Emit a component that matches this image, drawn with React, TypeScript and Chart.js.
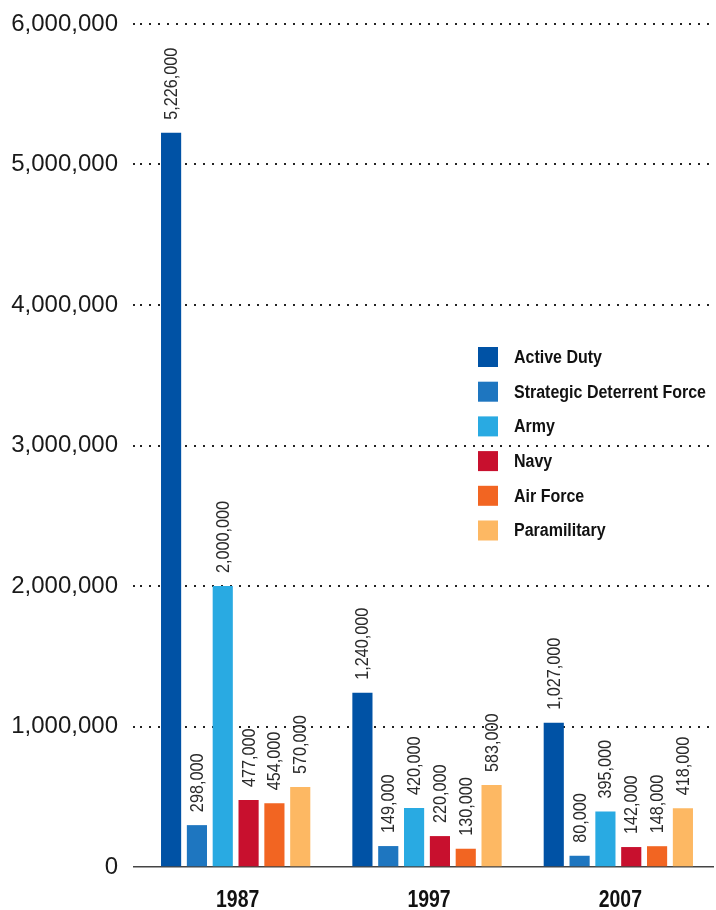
import React, { useEffect, useRef } from "react";
import { Chart, registerables } from "chart.js";

Chart.register(...registerables);

const categories = ["1987", "1997", "2007"];
const seriesNames = ["Active Duty", "Strategic Deterrent Force", "Army", "Navy", "Air Force", "Paramilitary"];
const seriesColors = ["#0052A5", "#1E76C0", "#29AAE2", "#C8102E", "#F26522", "#FDB863"];
const activeDuty = [5226000, 1240000, 1027000];
const strategic = [298000, 149000, 80000];
const army = [2000000, 420000, 395000];
const navy = [477000, 220000, 142000];
const airForce = [454000, 130000, 148000];
const paramilitary = [570000, 583000, 418000];
const seriesValues = [activeDuty, strategic, army, navy, airForce, paramilitary];
const yTicks = [0, 1000000, 2000000, 3000000, 4000000, 5000000, 6000000];

const REGULAR = "'Liberation Sans', Arial, sans-serif";

const fmt = (v: number) => v.toLocaleString("en-US");

const valueLabelPlugin = {
  id: "valueLabels",
  afterDatasetsDraw(chart: any) {
    const ctx = chart.ctx;
    ctx.save();
    ctx.font = `18px ${REGULAR}`;
    ctx.fillStyle = "#2a2a2a";
    ctx.textAlign = "left";
    ctx.textBaseline = "middle";
    chart.data.datasets.forEach((ds: any, di: number) => {
      const meta = chart.getDatasetMeta(di);
      meta.data.forEach((bar: any, i: number) => {
        ctx.save();
        ctx.translate(bar.x + 1, bar.y - 13);
        ctx.rotate(-Math.PI / 2);
        ctx.scale(0.9, 1);
        ctx.fillText(fmt(ds.data[i]), 0, 0);
        ctx.restore();
      });
    });
    ctx.restore();
  },
};

const xLabelPlugin = {
  id: "xLabels",
  afterDraw(chart: any) {
    const ctx = chart.ctx;
    const xs = chart.scales.x;
    ctx.save();
    ctx.font = `bold 24px ${REGULAR}`;
    ctx.fillStyle = "#111";
    ctx.textAlign = "center";
    ctx.textBaseline = "alphabetic";
    (chart.data.labels as string[]).forEach((lab, i) => {
      const x = xs.getPixelForTick(i);
      ctx.save();
      ctx.translate(x + 2, chart.chartArea.bottom + 40);
      ctx.scale(0.81, 1);
      ctx.fillText(lab, 0, 0);
      ctx.restore();
    });
    ctx.restore();
  },
};

const legendPlugin = {
  id: "insideLegend",
  afterDraw(chart: any) {
    const ctx = chart.ctx;
    const x0 = 478;
    const y0 = 347;
    const step = 34.7;
    ctx.save();
    ctx.font = `bold 18px ${REGULAR}`;
    ctx.textAlign = "left";
    ctx.textBaseline = "middle";
    const widest = ctx.measureText("Strategic Deterrent Force").width;
    const sx = 192 / widest;
    chart.data.datasets.forEach((ds: any, i: number) => {
      const y = y0 + i * step;
      ctx.fillStyle = ds.backgroundColor;
      ctx.fillRect(x0, y, 20, 20);
      ctx.fillStyle = "#111";
      ctx.save();
      ctx.translate(x0 + 36, y + 11);
      ctx.scale(sx, 1);
      ctx.fillText(ds.label, 0, 0);
      ctx.restore();
    });
    ctx.restore();
  },
};

export default function App() {
  const ref = useRef<HTMLCanvasElement | null>(null);
  useEffect(() => {
    if (!ref.current) return;
    const chart = new Chart(ref.current, {
      type: "bar",
      data: {
        labels: categories,
        datasets: seriesNames.map((name, i) => ({
          label: name,
          data: seriesValues[i],
          backgroundColor: seriesColors[i],
          borderWidth: 0,
          categoryPercentage: 0.81,
          barPercentage: 0.78,
        })),
      },
      options: {
        animation: false,
        responsive: false,
        maintainAspectRatio: false,
        layout: { padding: { top: 24, right: 2, left: 0, bottom: 0 } },
        plugins: { legend: { display: false }, tooltip: { enabled: false } },
        scales: {
          x: {
            grid: { display: false },
            border: { display: false },
            ticks: { display: false },
            afterFit: (s: any) => {
              s.height = 43;
              s.paddingLeft = 0;
              s.paddingRight = 0;
            },
          },
          y: {
            min: 0,
            max: 6000000,
            afterBuildTicks: (s: any) => {
              s.ticks = yTicks.map((v) => ({ value: v }));
            },
            grid: {
              color: (c: any) => (c.tick && c.tick.value === 0 ? "#444" : "#222"),
              lineWidth: (c: any) => (c.tick && c.tick.value === 0 ? 1.5 : 2),
              tickLength: 7,
              tickColor: (c: any) => (c.tick && c.tick.value === 0 ? "#444" : "#222"),
              tickWidth: (c: any) => (c.tick && c.tick.value === 0 ? 1.5 : 2),
              tickBorderDash: (c: any) => (c.tick && c.tick.value === 0 ? [] : [2, 7]),
            },
            border: {
              display: false,
              dash: (c: any) => (c.tick && c.tick.value === 0 ? [] : [2, 7]),
            },
            ticks: {
              font: { family: REGULAR, size: 24 },
              color: "#1a1a1a",
              padding: 15,
              callback: (v: any) => fmt(Number(v)),
            },
            afterFit: (s: any) => {
              s.width = 140;
              s.paddingTop = 0;
              s.paddingBottom = 0;
            },
          },
        },
      },
      plugins: [valueLabelPlugin, xLabelPlugin, legendPlugin],
    });
    return () => chart.destroy();
  }, []);
  return (
    <div style={{ position: "fixed", left: 0, top: 0, width: 716, height: 910, background: "#fff" }}>
      <canvas ref={ref} width={716} height={910} style={{ display: "block" }} />
    </div>
  );
}
